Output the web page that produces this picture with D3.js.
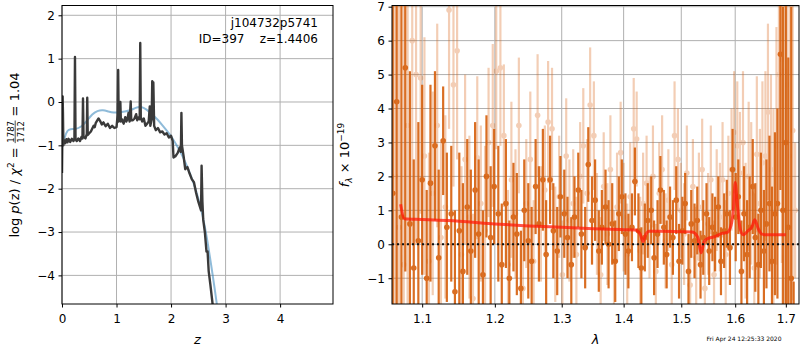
<!DOCTYPE html>
<html lang="en">
<head>
<meta charset="UTF-8">
<title>j104732p5741 redshift fit</title>
<style>
  body { margin: 0; background: #fff; }
  svg { font-family: "DejaVu Sans", sans-serif; }
  .tick text { fill: #000; }
</style>
</head>
<body>
<div id="chart"></div>
<script src="https://d3js.org/d3.v7.min.js"></script>
<script>
// ---- left panel: log p(z)
const pzZ = [0.000, 0.008, 0.012, 0.018, 0.025, 0.04, 0.06, 0.08, 0.10, 0.12,
  0.15, 0.18, 0.21, 0.228, 0.238, 0.248, 0.27, 0.30, 0.33, 0.36,
  0.375, 0.385, 0.395, 0.43, 0.455, 0.463, 0.472, 0.50, 0.53, 0.56,
  0.58, 0.60, 0.62, 0.65, 0.67, 0.70, 0.73, 0.76, 0.80, 0.84,
  0.88, 0.92, 0.96, 1.00, 1.02, 1.03, 1.04, 1.06, 1.07, 1.08,
  1.10, 1.13, 1.16, 1.18, 1.20, 1.22, 1.24, 1.26, 1.27, 1.30,
  1.33, 1.36, 1.38, 1.41, 1.425, 1.435, 1.445, 1.47, 1.50, 1.53,
  1.56, 1.59, 1.61, 1.62, 1.645, 1.655, 1.665, 1.675, 1.69, 1.72,
  1.76, 1.80, 1.84, 1.88, 1.92, 1.96, 2.00, 2.03, 2.045, 2.08,
  2.12, 2.16, 2.18, 2.19, 2.20, 2.23, 2.26, 2.30, 2.34, 2.38,
  2.42, 2.46, 2.50, 2.53, 2.55, 2.56, 2.575, 2.59, 2.62, 2.65,
  2.67, 2.69, 2.72, 2.77];
const pzLog = [-1.64, -0.6, 0.13, -0.3, -1.0, -0.88, -0.95, -0.86, -0.93, -0.85,
  -0.92, -0.85, -0.9, -0.84, 1.04, -0.86, -0.9, -0.84, -0.9, -0.8,
  -0.84, 0.08, -0.8, -0.84, -0.74, 0.1, -0.76, -0.72, -0.68, -0.6,
  -0.55, -0.58, -0.48, -0.42, -0.38, -0.44, -0.52, -0.47, -0.56, -0.5,
  -0.6, -0.55, -0.6, -0.58, -0.3, 0.74, -0.45, -0.4, 0.0, -0.45,
  -0.4, -0.5, -0.35, -0.45, -0.4, -0.25, -0.45, 0.01, -0.42, -0.42,
  -0.38, -0.28, -0.42, -0.35, -0.4, 1.36, -0.35, -0.45, -0.38, -0.55,
  -0.5, -0.45, -0.1, -0.55, -0.4, 0.48, 0.36, 0.45, -0.55, -0.65,
  -0.6, -0.7, -0.68, -0.75, -0.72, -0.82, -0.78, -0.9, -1.28, -1.25,
  -1.18, -1.05, -1.15, -0.25, -1.0, -1.25, -1.55, -1.5, -1.65, -1.78,
  -1.85, -2.1, -2.3, -2.42, -2.5, -1.47, -2.3, -2.72, -3.0, -3.45,
  -3.45, -3.9, -4.2, -4.75];
const smoothZ = [0, 0.05, 0.1, 0.15, 0.25, 0.35, 0.45, 0.55, 0.65, 0.75,
  0.85, 0.95, 1.05, 1.15, 1.25, 1.35, 1.45, 1.55, 1.65, 1.75,
  1.85, 1.95, 2.05, 2.15, 2.25, 2.35, 2.45, 2.55, 2.62, 2.68,
  2.74, 2.80, 2.86];
const smoothLog = [-1.05, -0.8, -0.65, -0.62, -0.63, -0.58, -0.45, -0.28, -0.2, -0.18,
  -0.22, -0.25, -0.24, -0.22, -0.2, -0.13, -0.1, -0.17, -0.28, -0.4,
  -0.55, -0.7, -0.88, -1.1, -1.35, -1.65, -2.0, -2.45, -2.87, -3.3,
  -3.8, -4.3, -4.85];
const zTicks = [0, 1, 2, 3, 4];
const pzTicks = [-4, -3, -2, -1, 0, 1, 2];

// ---- right panel: spectrum
const darkWave = [1.062, 1.067, 1.073, 1.078, 1.084, 1.089, 1.095, 1.100, 1.106, 1.111,
  1.117, 1.122, 1.128, 1.133, 1.139, 1.144, 1.150, 1.155, 1.161, 1.166,
  1.172, 1.177, 1.183, 1.188, 1.194, 1.199, 1.205, 1.210, 1.216, 1.221,
  1.227, 1.232, 1.238, 1.243, 1.249, 1.254, 1.260, 1.265, 1.271, 1.276,
  1.282, 1.287, 1.293, 1.298, 1.304, 1.309, 1.315, 1.320, 1.326, 1.331,
  1.337, 1.342, 1.348, 1.353, 1.359, 1.364, 1.370, 1.375, 1.381, 1.386,
  1.392, 1.397, 1.403, 1.408, 1.414, 1.419, 1.425, 1.430, 1.436, 1.441,
  1.447, 1.452, 1.458, 1.463, 1.469, 1.474, 1.480, 1.485, 1.491, 1.496,
  1.502, 1.507, 1.513, 1.518, 1.524, 1.529, 1.535, 1.540, 1.546, 1.551,
  1.557, 1.562, 1.568, 1.573, 1.579, 1.584, 1.590, 1.595, 1.601, 1.606,
  1.612, 1.617, 1.623, 1.628, 1.634, 1.639, 1.645, 1.650, 1.656, 1.661,
  1.667, 1.672, 1.678, 1.683, 1.689, 1.694, 1.700, 1.705, 1.711, 1.716];
const darkFlux = [1.5, 4.2, 0.8, 5.2, 0.6, -0.7, 0.1, 1.9, -1.0, 1.8,
  2.9, -0.4, 3.05, 0.5, 0.9, -1.4, 0.4, -0.8, 1.1, -0.2,
  1.6, 0.3, -0.9, 2.0, 0.2, 1.7, 0.9, -0.6, 1.2, -1.0,
  0.8, 0.3, -1.3, 1.0, 0.1, -0.5, 1.7, 0.6, 1.9, -0.3,
  1.9, 0.4, -0.2, 1.4, 0.9, 0.2, -0.6, 0.8, 1.6, 0.3,
  -0.1, 2.35, 0.7, 1.3, -0.2, 0.5, 1.1, 0.0, 0.6, -0.5,
  0.9, 1.4, 0.3, -0.2, 0.5, 1.85, 0.4, -0.7, 0.2, 0.7,
  1.0, -0.4, 0.3, 1.6, 0.5, -0.3, 0.8, 0.2, 1.3, -0.5,
  0.4, 1.2, -0.8, 0.6, 0.1, 0.7, -0.6, 0.2, 0.9, -0.2,
  0.5, 0.3, 1.1, -0.5, 0.4, 0.9, -0.1, 2.2, 0.8, 1.4,
  -0.8, 0.9, -0.3, 0.5, 1.7, 0.2, -0.6, 1.0, -0.2, 0.6,
  1.2, -0.5, 0.9, 1.2, 5.6, 1.0, 3.0, 0.5, -1.0, -2.6];
const darkErr = [9, 8, 8, 6, 4.5, 3.2, 3.5, 2.8, 2.6, 2.9,
  2.2, 2.6, 1.6, 2.2, 2.0, 2.4, 2.3, 2.6, 2.0, 2.4,
  2.0, 2.2, 1.9, 1.8, 2.1, 1.7, 2.0, 1.8, 1.9, 1.7,
  1.6, 1.8, 1.7, 1.5, 1.7, 1.6, 1.4, 1.7, 1.5, 1.6,
  1.3, 1.4, 1.3, 1.2, 1.3, 1.2, 1.4, 1.2, 1.1, 1.3,
  1.2, 1.1, 1.3, 1.2, 1.2, 1.1, 1.1, 1.3, 1.2, 1.2,
  1.1, 1.1, 1.2, 1.1, 1.0, 1.0, 1.1, 1.2, 1.0, 1.1,
  1.0, 1.1, 1.0, 1.0, 1.1, 1.0, 0.9, 1.1, 1.0, 1.1,
  1.0, 0.9, 1.1, 1.0, 1.1, 1.0, 1.0, 1.1, 0.9, 1.0,
  1.0, 1.1, 0.9, 1.0, 1.1, 1.0, 1.1, 1.2, 1.3, 1.1,
  1.5, 1.4, 1.6, 1.5, 1.4, 1.6, 1.5, 1.7, 1.8, 1.9,
  2.0, 2.2, 2.4, 2.8, 4.0, 6.0, 6.0, 5.0, 8.0, 1.5];
const lightWave = [1.065, 1.070, 1.076, 1.081, 1.087, 1.092, 1.098, 1.103, 1.109, 1.114,
  1.120, 1.125, 1.131, 1.136, 1.142, 1.147, 1.153, 1.158, 1.164, 1.169,
  1.175, 1.180, 1.186, 1.191, 1.197, 1.202, 1.208, 1.213, 1.219, 1.224,
  1.230, 1.235, 1.241, 1.246, 1.252, 1.257, 1.263, 1.268, 1.274, 1.279,
  1.285, 1.290, 1.296, 1.301, 1.307, 1.312, 1.318, 1.323, 1.329, 1.334,
  1.340, 1.345, 1.351, 1.356, 1.362, 1.367, 1.373, 1.378, 1.384, 1.389,
  1.395, 1.400, 1.406, 1.411, 1.417, 1.422, 1.428, 1.433, 1.439, 1.444,
  1.450, 1.455, 1.461, 1.466, 1.472, 1.477, 1.483, 1.488, 1.494, 1.499,
  1.505, 1.510, 1.516, 1.521, 1.527, 1.532, 1.538, 1.543, 1.549, 1.554,
  1.560, 1.565, 1.571, 1.576, 1.582, 1.587, 1.593, 1.598, 1.604, 1.609,
  1.615, 1.620, 1.626, 1.631, 1.637, 1.642, 1.648, 1.653, 1.659, 1.664,
  1.670, 1.675, 1.681, 1.686, 1.692, 1.697, 1.703, 1.708, 1.714, 1.719];
const lightFlux = [2.0, 0.5, -0.6, 3.5, 6.0, 5.0, 4.9, 2.6, -0.5, 1.5,
  3.5, 0.2, 1.1, 6.9, 4.7, 5.7, -0.3, 2.5, 0.8, -1.6,
  2.55, 1.2, 0.4, 3.0, 3.5, 5.1, 5.2, 3.2, -0.6, 1.9,
  0.9, 3.5, -1.3, 1.2, 2.5, -0.5, 3.8, 0.6, 1.6, 3.6,
  3.4, 0.0, 1.4, -0.9, 2.6, 0.7, 1.2, -0.3, 2.0, 2.9,
  1.5, 4.1, 3.2, 0.6, -0.9, 1.7, 0.3, 2.2, -0.5, 1.1,
  2.7, 0.8, -0.3, 1.4, 3.4, 3.1, -0.2, 1.2, 1.8, 0.5,
  2.0, -0.8, 1.5, 2.2, 0.1, 1.3, -0.6, 3.2, 2.5, 1.0,
  0.3, 2.1, -1.2, 1.7, -0.4, 1.1, 2.2, -1.3, 0.6, 1.9,
  -0.9, 1.3, 0.8, 1.9, -0.3, 1.5, 2.2, 3.3, 2.9, 2.1,
  3.0, 0.4, 2.0, 1.5, -0.7, 2.65, 1.2, 2.4, 2.6, 3.9,
  2.2, 1.0, 2.9, 5.0, 5.45, 5.1, 4.7, 2.6, 3.35, 1.0];
const lightErr = [10, 9, 9, 8, 6, 5, 4, 3.5, 3.2, 3.0,
  3.0, 2.8, 2.7, 3.5, 3.0, 3.2, 2.6, 2.5, 2.4, 2.5,
  2.4, 2.3, 2.5, 2.2, 2.4, 2.3, 2.3, 2.1, 2.2, 2.3,
  1.9, 2.0, 1.8, 1.9, 2.0, 1.8, 1.8, 1.7, 1.9, 1.8,
  1.8, 1.7, 1.8, 1.6, 1.7, 1.8, 1.6, 1.7, 1.6, 1.7,
  1.6, 1.7, 1.6, 1.5, 1.7, 1.6, 1.5, 1.6, 1.5, 1.6,
  1.5, 1.6, 1.5, 1.6, 1.5, 1.4, 1.6, 1.5, 1.4, 1.5,
  1.5, 1.4, 1.5, 1.6, 1.4, 1.5, 1.4, 1.6, 1.5, 1.4,
  1.5, 1.4, 1.5, 1.4, 1.5, 1.6, 1.5, 1.4, 1.5, 1.6,
  1.6, 1.5, 1.6, 1.7, 1.6, 1.7, 1.8, 1.8, 1.9, 1.8,
  2.1, 2.0, 2.2, 2.1, 2.2, 2.3, 2.2, 2.4, 2.5, 2.6,
  2.8, 3.0, 3.5, 4.0, 6.0, 8.0, 8.0, 6.0, 5.0, 2.0];
const modelWave = [1.072, 1.077, 1.10, 1.15, 1.20, 1.25, 1.30, 1.35, 1.40, 1.42,
  1.428, 1.433, 1.438, 1.443, 1.46, 1.50, 1.52, 1.53, 1.536, 1.541,
  1.546, 1.56, 1.575, 1.585, 1.592, 1.597, 1.600, 1.604, 1.609, 1.615,
  1.625, 1.632, 1.638, 1.645, 1.652, 1.66, 1.70];
const modelFlux = [1.18, 0.75, 0.73, 0.68, 0.6, 0.54, 0.5, 0.46, 0.43, 0.42,
  0.3, 0.08, 0.3, 0.38, 0.38, 0.37, 0.36, 0.2, -0.25, 0.05,
  0.15, 0.22, 0.32, 0.35, 0.55, 1.1, 1.82, 1.2, 0.5, 0.28,
  0.4, 0.5, 0.72, 0.45, 0.3, 0.28, 0.28];
const waveTicks = [1.1, 1.2, 1.3, 1.4, 1.5, 1.6, 1.7];
const fluxTicks = [-1, 0, 1, 2, 3, 4, 5, 6, 7];

const W = 800, H = 350;
const fs = 12;
const L = { left: 62, right: 333, top: 5.5, bottom: 304 };
const R = { left: 392, right: 799, top: 5.5, bottom: 304 };
const orange = "#d65f0c";

const svg = d3.select("#chart").append("svg")
  .attr("width", W).attr("height", H);
const defs = svg.append("defs");
[["clipL", L], ["clipR", R]].forEach(([id, b]) => {
  defs.append("clipPath").attr("id", id).append("rect")
    .attr("x", b.left).attr("y", b.top)
    .attr("width", b.right - b.left).attr("height", b.bottom - b.top);
});

const xL = d3.scaleLinear().domain([0, 4.97]).range([L.left, L.right]);
const yL = d3.scaleLinear().domain([-4.66, 2.226]).range([L.bottom, L.top]);
const xR = d3.scaleLog().domain([1.061, 1.727]).range([R.left, R.right]);
const yR = d3.scaleLinear().domain([-1.76, 7.035]).range([R.bottom, R.top]);

function grid(b, x, y, xt, yt) {
  const g = svg.append("g").attr("stroke", "#b0b0b0").attr("stroke-width", 1);
  g.selectAll(".gx").data(xt).join("line")
    .attr("x1", d => x(d)).attr("x2", d => x(d)).attr("y1", b.top).attr("y2", b.bottom);
  g.selectAll(".gy").data(yt).join("line")
    .attr("y1", d => y(d)).attr("y2", d => y(d)).attr("x1", b.left).attr("x2", b.right);
}

function axes(b, x, y, xt, yt, xfmt) {
  svg.append("g").attr("transform", `translate(0,${b.bottom})`)
    .style("font-size", fs + "px").style("font-family", "DejaVu Sans")
    .call(d3.axisBottom(x).tickValues(xt).tickFormat(xfmt).tickSize(3.5).tickPadding(7))
    .call(g => g.select(".domain").remove());
  svg.append("g").attr("transform", `translate(${b.left},0)`)
    .style("font-size", fs + "px").style("font-family", "DejaVu Sans")
    .call(d3.axisLeft(y).tickValues(yt).tickFormat(d3.format("d")).tickSize(3.5).tickPadding(3.5))
    .call(g => g.select(".domain").remove());
  svg.append("rect").attr("x", b.left).attr("y", b.top)
    .attr("width", b.right - b.left).attr("height", b.bottom - b.top)
    .attr("fill", "none").attr("stroke", "#000").attr("stroke-width", 1);
}

// left panel
grid(L, xL, yL, zTicks, pzTicks);
const lineL = d3.line().x(d => xL(d[0])).y(d => yL(d[1]));
const gL = svg.append("g").attr("clip-path", "url(#clipL)");
gL.append("path").datum(d3.zip(smoothZ, smoothLog))
  .attr("d", d3.line().x(d => xL(d[0])).y(d => yL(d[1])).curve(d3.curveBasis))
  .attr("fill", "none")
  .attr("stroke", "#1f77b4").attr("stroke-opacity", 0.5).attr("stroke-width", 2);
gL.append("path").datum(d3.zip(pzZ, pzLog))
  .attr("d", lineL).attr("fill", "none")
  .attr("stroke", "#3a3a3a").attr("stroke-width", 2.4).attr("stroke-linejoin", "round");
axes(L, xL, yL, zTicks, pzTicks, d3.format("d"));

svg.append("text").attr("x", 318).attr("y", 27).attr("text-anchor", "end")
  .style("font-size", fs + "px").text("j104732p5741");
svg.append("text").attr("x", 318).attr("y", 43).attr("text-anchor", "end")
  .style("font-size", fs + "px").attr("xml:space", "preserve").text("ID=397    z=1.4406");

svg.append("text").attr("x", (L.left + L.right) / 2).attr("y", 344)
  .attr("text-anchor", "middle").style("font-size", "13px").style("font-style", "italic").text("z");

// left y label: log p(z) / chi^2 = 1787/1712 = 1.04
{
  const g = svg.append("g");
  const t = g.append("text").style("font-size", "13px");
  t.append("tspan").text("log ");
  t.append("tspan").style("font-style", "italic").text("p");
  t.append("tspan").text("(z) / ");
  t.append("tspan").style("font-style", "italic").text("χ");
  t.append("tspan").style("font-size", "9px").attr("dy", -5.5).text("2");
  t.append("tspan").attr("dy", 5.5).text("\u00a0=\u00a0");
  const w1 = t.node().getComputedTextLength();
  const num = g.append("text").style("font-size", "8.5px").attr("text-anchor", "middle").attr("y", -5.5).text("1787");
  const den = g.append("text").style("font-size", "8.5px").attr("text-anchor", "middle").attr("y", 5).text("1712");
  const fw = Math.max(num.node().getComputedTextLength(), den.node().getComputedTextLength()) + 1;
  num.attr("x", w1 + fw / 2);
  den.attr("x", w1 + fw / 2);
  g.append("line").attr("x1", w1).attr("x2", w1 + fw).attr("y1", -3.8).attr("y2", -3.8)
    .attr("stroke", "#000").attr("stroke-width", 0.7);
  const t2 = g.append("text").style("font-size", "13px").attr("x", w1 + fw).text("\u00a0=\u00a01.04");
  const total = w1 + fw + t2.node().getComputedTextLength();
  g.attr("transform", `translate(19,${155 + total / 2}) rotate(-90)`);
}

// right panel
grid(R, xR, yR, waveTicks, fluxTicks);
const gR = svg.append("g").attr("clip-path", "url(#clipR)");

function errSeries(wave, flux, err, opacity) {
  const pts = d3.zip(wave, flux, err);
  const g = gR.append("g").attr("opacity", opacity);
  g.selectAll("line").data(pts).join("line")
    .attr("x1", d => xR(d[0])).attr("x2", d => xR(d[0]))
    .attr("y1", d => yR(d[1] - d[2])).attr("y2", d => yR(d[1] + d[2]))
    .attr("stroke", orange).attr("stroke-width", 2.2);
  g.selectAll("circle").data(pts).join("circle")
    .attr("cx", d => xR(d[0])).attr("cy", d => yR(d[1])).attr("r", 2.8)
    .attr("fill", orange);
}
errSeries(lightWave, lightFlux, lightErr, 0.3);
errSeries(darkWave, darkFlux, darkErr, 0.9);

gR.append("path").datum(d3.zip(modelWave, modelFlux))
  .attr("d", d3.line().x(d => xR(d[0])).y(d => yR(d[1])).curve(d3.curveMonotoneX))
  .attr("fill", "none").attr("stroke", "#ff1a0a").attr("stroke-opacity", 0.75)
  .attr("stroke-width", 3);

gR.append("line").attr("x1", R.left).attr("x2", R.right)
  .attr("y1", yR(0)).attr("y2", yR(0))
  .attr("stroke", "#111").attr("stroke-width", 2).attr("stroke-dasharray", "2,3");

axes(R, xR, yR, waveTicks, fluxTicks, d3.format(".1f"));

svg.append("text").attr("x", (R.left + R.right) / 2).attr("y", 344)
  .attr("text-anchor", "middle").style("font-size", "13px").style("font-style", "italic").text("λ");

// right y label: f_lambda x 10^-19
{
  const t = svg.append("text").style("font-size", "13px").attr("text-anchor", "middle")
    .attr("transform", "translate(349,155) rotate(-90)");
  t.append("tspan").style("font-style", "italic").text("f");
  t.append("tspan").style("font-size", "9px").style("font-style", "italic").attr("dy", 3).text("λ");
  t.append("tspan").attr("dy", -3).text("\u00a0×\u00a010");
  t.append("tspan").style("font-size", "9px").attr("dy", -5.5).text("−19");
}

svg.append("text").attr("x", 744).attr("y", 341).attr("text-anchor", "middle")
  .style("font-size", "6px").text("Fri Apr 24 12:25:33 2020");
</script>
</body>
</html>
